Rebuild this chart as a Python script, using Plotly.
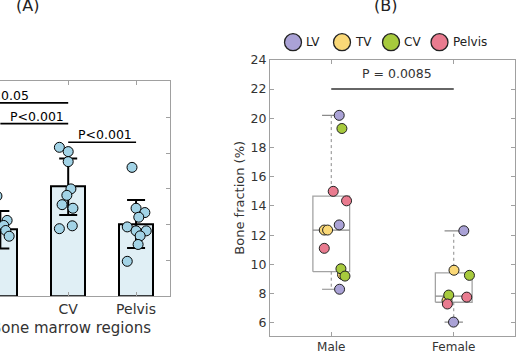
import numpy as np
import plotly.graph_objects as go

W, H = 527, 360
FONT = "DejaVu Sans"

# ---- panel A: bone fraction by bone marrow region (bars = mean, whiskers = SD)
regions = ["LV", "TV", "CV", "Pelvis"]
region_mean = [8.5, 9.3, 15.3, 10.1]
region_sd = [2.4, 2.6, 3.95, 3.35]

tv_vals = [14.0, 10.6, 9.9, 9.2, 8.4]
tv_dx = [-0.05, 0.10, 0.05, 0.08, 0.13]
cv_vals = [20.8, 20.2, 18.8, 15.0, 14.1, 12.8, 12.3, 9.45, 9.85]
cv_dx = [-0.13, 0.0, 0.0, 0.04, -0.02, -0.09, 0.07, -0.13, 0.06]
pelvis_vals = [18.0, 12.3, 11.7, 11.05, 9.7, 9.15, 9.15, 8.45, 7.25, 4.9]
pelvis_dx = [-0.06, 0.0, 0.13, 0.04, -0.13, 0.0, 0.15, 0.06, 0.03, -0.13]

comp_pairs = [(0, 2), (1, 2), (2, 3)]
comp_y = [27.0, 24.1, 21.5]
comp_text = ["P<0.05", "P<0.001", "P<0.001"]

# ---- panel B: bone fraction by sex, coloured by region
sexes = ["Male", "Female"]
male_lv = [20.2, 12.7, 8.3]
male_lv_dx = [0.065, 0.065, 0.068]
male_tv = [12.35, 12.35, 9.3]
male_tv_dx = [-0.057, -0.03, 0.092]
male_cv = [19.3, 9.7, 9.2]
male_cv_dx = [0.087, 0.079, 0.112]
male_pelvis = [15.0, 14.35, 11.1]
male_pelvis_dx = [0.016, 0.125, -0.057]
female_lv = [12.3, 6.05]
female_lv_dx = [0.082, -0.002]
female_tv = [9.6, 7.53]
female_tv_dx = [0.002, -0.055]
female_cv = [9.25, 7.9]
female_cv_dx = [0.128, -0.041]
female_pelvis = [7.76, 7.29]
female_pelvis_dx = [0.106, -0.052]
p_sex = "P = 0.0085"
p_sex_y = 22.0

region_colors = ["#aaa2d6", "#fad877", "#a7ca3d", "#e97b8f"]

fig = go.Figure()

# panel A bars
fig.add_trace(go.Bar(
    x=list(range(len(regions))), y=region_mean, width=0.5,
    marker=dict(color="#e0eff5", line=dict(color="black", width=2)),
    error_y=dict(type="data", array=region_sd, color="black", thickness=2, width=9),
    xaxis="x", yaxis="y", showlegend=False))

for idx, vals, dx in [(1, tv_vals, tv_dx), (2, cv_vals, cv_dx), (3, pelvis_vals, pelvis_dx)]:
    fig.add_trace(go.Scatter(
        x=[idx + d for d in dx], y=vals, mode="markers",
        marker=dict(size=10, color="#a2d3e6", line=dict(color="black", width=1)),
        xaxis="x", yaxis="y", showlegend=False))

label_shift = [6, 3, 3]
for (a, b), yv, txt, xs in zip(comp_pairs, comp_y, comp_text, label_shift):
    fig.add_trace(go.Scatter(x=[a, b], y=[yv, yv], mode="lines",
                             line=dict(color="black", width=1.6),
                             xaxis="x", yaxis="y", showlegend=False))
    fig.add_annotation(x=(a + b) / 2, y=yv, xref="x", yref="y", text=txt,
                       showarrow=False, xanchor="center", yanchor="bottom",
                       xshift=xs, yshift=-2,
                       font=dict(family=FONT, size=12.5, color="black"))

# panel B boxes (MATLAB style) computed from the points
groups = [male_lv + male_tv + male_cv + male_pelvis,
          female_lv + female_tv + female_cv + female_pelvis]
bw, cw = 0.15, 0.075
for c, vals in enumerate(groups):
    q1, med, q3 = np.percentile(vals, [25, 50, 75], method="hazen")
    lo, hi = min(vals), max(vals)
    fig.add_trace(go.Scatter(x=[c - bw, c + bw, c + bw, c - bw, c - bw],
                             y=[q1, q1, q3, q3, q1], mode="lines",
                             line=dict(color="#a3a3a3", width=1.3),
                             xaxis="x2", yaxis="y2", showlegend=False))
    fig.add_trace(go.Scatter(x=[c - bw, c + bw], y=[med, med], mode="lines",
                             line=dict(color="#8a8a8a", width=1.3),
                             xaxis="x2", yaxis="y2", showlegend=False))
    for a, b in [(q3, hi), (q1, lo)]:
        fig.add_trace(go.Scatter(x=[c, c], y=[a, b], mode="lines",
                                 line=dict(color="#8a8a8a", width=1, dash="dot"),
                                 xaxis="x2", yaxis="y2", showlegend=False))
        fig.add_trace(go.Scatter(x=[c - cw, c + cw], y=[b, b], mode="lines",
                                 line=dict(color="#8a8a8a", width=1.2),
                                 xaxis="x2", yaxis="y2", showlegend=False))

series_b = [
    (male_lv, male_lv_dx, female_lv, female_lv_dx),
    (male_tv, male_tv_dx, female_tv, female_tv_dx),
    (male_cv, male_cv_dx, female_cv, female_cv_dx),
    (male_pelvis, male_pelvis_dx, female_pelvis, female_pelvis_dx),
]
for (mv, mdx, fv, fdx), col, name in zip(series_b, region_colors, regions):
    xs = [0 + d for d in mdx] + [1 + d for d in fdx]
    fig.add_trace(go.Scatter(
        x=xs, y=mv + fv, mode="markers", name=name,
        marker=dict(size=10, color=col, line=dict(color="#222", width=1)),
        xaxis="x2", yaxis="y2", showlegend=False))

fig.add_trace(go.Scatter(x=[0, 1], y=[p_sex_y, p_sex_y], mode="lines",
                         line=dict(color="#666", width=2),
                         xaxis="x2", yaxis="y2", showlegend=False))
fig.add_annotation(x=0.5, y=p_sex_y, xref="x2", yref="y2", text=p_sex,
                   showarrow=False, xanchor="center", yanchor="bottom",
                   xshift=4, yshift=6,
                   font=dict(family=FONT, size=12.5, color="#333"))

# legend for panel B (drawn by hand so the circles can be larger)
leg_x = [293, 342, 391, 439.5]
for px, col, name in zip(leg_x, region_colors, regions):
    fig.add_shape(type="circle", xref="paper", yref="paper",
                  xsizemode="pixel", ysizemode="pixel",
                  xanchor=px / W, yanchor=1 - 35 / H,
                  x0=-8.5, x1=8.5, y0=-8.5, y1=8.5,
                  fillcolor=col, line=dict(color="#222", width=1.3))
    fig.add_annotation(x=(px + 11) / W, y=1 - 35 / H, xref="paper", yref="paper",
                       text=name, showarrow=False, xanchor="left", yanchor="middle",
                       font=dict(family=FONT, size=12, color="#222"))

# panel titles and axis titles
for tx, ttl in [(27, "(A)"), (385, "(B)")]:
    fig.add_annotation(x=tx / W, y=1 + 3 / H, xref="paper", yref="paper", text=ttl,
                       showarrow=False, xanchor="center", yanchor="middle",
                       font=dict(family=FONT, size=16, color="#222"))
fig.add_annotation(x=153 / W, y=1 - 327 / H, xref="paper", yref="paper",
                   text="Bone marrow regions", showarrow=False,
                   xanchor="right", yanchor="middle",
                   font=dict(family=FONT, size=15, color="#333"))
fig.add_annotation(x=240 / W, y=1 - 194 / H, xref="paper", yref="paper",
                   text="Bone fraction (%)", showarrow=False, textangle=-90,
                   xanchor="center", yanchor="middle",
                   font=dict(family=FONT, size=13, color="#333"))

ax_common = dict(showline=True, linecolor="#a0a0a0", linewidth=1,
                 ticks="inside", ticklen=4, tickcolor="#a0a0a0", showgrid=False,
                 zeroline=False)

fig.update_layout(
    width=W, height=H, margin=dict(l=0, r=0, t=0, b=0),
    paper_bgcolor="white", plot_bgcolor="white",
    font=dict(family=FONT, color="#333"),
    bargap=0,
    xaxis=dict(domain=[0, 170 / W], range=[0.995, 3.5], mirror="ticks",
               tickvals=list(range(len(regions))), ticktext=regions,
               tickfont=dict(size=14, color="#333"), **ax_common),
    # the left half of panel A lies outside the picture, so only its right edge shows
    yaxis=dict(domain=[1 - 295 / H, 1 - 75 / H], range=[0, 30], side="right",
               tickvals=[0, 5, 10, 15, 20, 25, 30], showticklabels=False,
               **ax_common),
    xaxis2=dict(domain=[270 / W, 515 / W], range=[-0.5, 1.5], mirror="ticks",
                tickvals=[0, 1], ticktext=sexes,
                tickfont=dict(size=12, color="#333"), anchor="y2", **ax_common),
    yaxis2=dict(domain=[1 - 335 / H, 1 - 53 / H], range=[5.13, 24], mirror="ticks",
                tickvals=list(range(6, 25, 2)),
                tickfont=dict(size=12.5, color="#333"), anchor="x2", **ax_common),
)

fig.write_html("out.html", config={"displayModeBar": False},
               post_script="document.body.style.margin='0px';")
